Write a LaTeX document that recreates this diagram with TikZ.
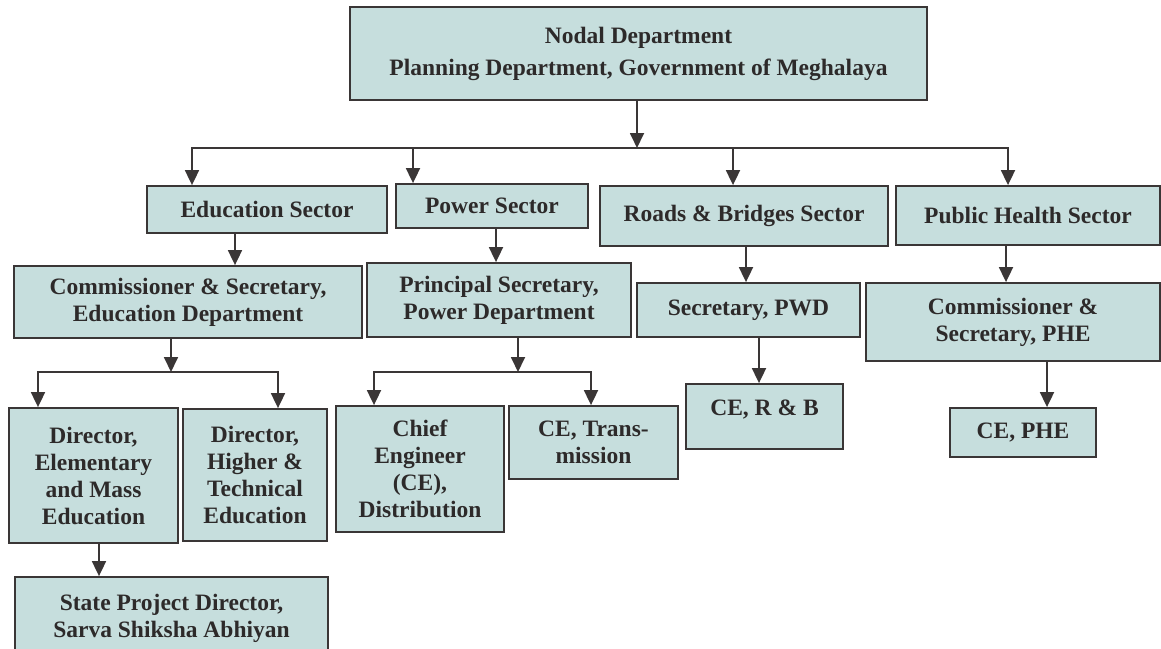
\documentclass[tikz,border=0pt]{standalone}
\usepackage{fontspec}
\setmainfont{Liberation Serif}
\usetikzlibrary{arrows.meta}
\definecolor{boxfill}{RGB}{198,222,221}
\definecolor{ink}{RGB}{58,54,54}
\definecolor{txt}{RGB}{45,42,42}
\begin{document}
\begin{tikzpicture}[x=1pt,y=-1pt,
  unit/.style={draw=ink, line width=1.8pt, fill=boxfill, inner sep=0pt, align=center,
    font=\bfseries\fontsize{23.5}{27}\selectfont, text=txt},
  arr/.style={draw=ink, line width=1.8pt, -{Triangle[length=15pt,width=14pt]}},
  wire/.style={draw=ink, line width=1.8pt, line cap=rect}]
\useasboundingbox (0,0) rectangle (1161,648);

% --- boxes ---
\node[unit, minimum width=577, minimum height=93, font=\bfseries\fontsize{23.5}{32}\selectfont] (nodal) at (638.5,53.5)
  {Nodal Department\\Planning Department, Government of Meghalaya};

\node[unit, minimum width=240, minimum height=47] (edu)   at (267,209.5) {Education Sector};
\node[unit, minimum width=192, minimum height=44] (power) at (492,206)   {Power Sector};
\node[unit, minimum width=288, minimum height=60] (roads) at (744,216)   {Roads \& Bridges Sector};
\node[unit, minimum width=264, minimum height=59] (phs)   at (1028,215.5) {Public Health Sector};

\node[unit, minimum width=348, minimum height=72] (comm) at (188,302)
  {Commissioner \& Secretary,\\Education Department};
\node[unit, minimum width=264, minimum height=74] (psec) at (499,300)
  {Principal Secretary,\\Power Department};
\node[unit, minimum width=223, minimum height=54] (pwd) at (748.5,310) {Secretary, PWD};
\node[unit, minimum width=294, minimum height=78] (cphe) at (1013,322)
  {Commissioner \&\\Secretary, PHE};

\node[unit, minimum width=169, minimum height=135] (dirE) at (93.5,475.5)
  {Director,\\Elementary\\and Mass\\Education};
\node[unit, minimum width=144, minimum height=132] (dirH) at (255,475)
  {Director,\\Higher \&\\Technical\\Education};
\node[unit, minimum width=168, minimum height=126] (chief) at (420,469)
  {Chief\\Engineer\\(CE),\\Distribution};
\node[unit, minimum width=169, minimum height=73] (ceT) at (593.5,442.5)
  {CE, Trans-\\mission};
\node[unit, minimum width=157, minimum height=65, text depth=18pt] (ceRB) at (764.5,416.5)
  {CE, R \& B};
\node[unit, minimum width=146, minimum height=49] (cePHE) at (1023,432.5) {CE, PHE};

\node[unit, minimum width=313, minimum height=83] (state) at (171.5,618.5)
  {State Project Director,\\Sarva Shiksha Abhiyan};

% --- top level distribution bus ---
\coordinate (hub)  at (637,148);
\coordinate (busW) at (192,148);
\coordinate (busP) at (413,148);
\coordinate (busR) at (733,148);
\coordinate (busE) at (1008,148);
\draw[wire] (busW) -- (busE);
\draw[arr] (nodal.south -| hub) -- (hub);
\draw[arr] (busW) -- (busW |- edu.north);
\draw[arr] (busP) -- (busP |- power.north);
\draw[arr] (busR) -- (busR |- roads.north);
\draw[arr] (busE) -- (busE |- phs.north);

% --- sector to secretary ---
\coordinate (xEdu) at (235,0);
\coordinate (xPow) at (496,0);
\coordinate (xRds) at (746,0);
\coordinate (xPhs) at (1006,0);
\draw[arr] (edu.south -| xEdu)   -- (comm.north -| xEdu);
\draw[arr] (power.south -| xPow) -- (psec.north -| xPow);
\draw[arr] (roads.south -| xRds) -- (pwd.north -| xRds);
\draw[arr] (phs.south -| xPhs)   -- (cphe.north -| xPhs);

% --- education split ---
\coordinate (sC)  at (171,372);
\coordinate (sCl) at (38,372);
\coordinate (sCr) at (278,372);
\draw[wire] (sCl) -- (sCr);
\draw[arr] (comm.south -| sC) -- (sC);
\draw[arr] (sCl) -- (sCl |- dirE.north);
\draw[arr] (sCr) -- (sCr |- dirH.north);

% --- power split ---
\coordinate (sP)  at (518,372);
\coordinate (sPl) at (374,372);
\coordinate (sPr) at (591,372);
\draw[wire] (sPl) -- (sPr);
\draw[arr] (psec.south -| sP) -- (sP);
\draw[arr] (sPl) -- (sPl |- chief.north);
\draw[arr] (sPr) -- (sPr |- ceT.north);

% --- single links ---
\coordinate (xPwd) at (759,0);
\coordinate (xPhe) at (1047,0);
\coordinate (xDir) at (99,0);
\draw[arr] (pwd.south -| xPwd)  -- (ceRB.north -| xPwd);
\draw[arr] (cphe.south -| xPhe) -- (cePHE.north -| xPhe);
\draw[arr] (dirE.south -| xDir) -- (state.north -| xDir);
\end{tikzpicture}
\end{document}
